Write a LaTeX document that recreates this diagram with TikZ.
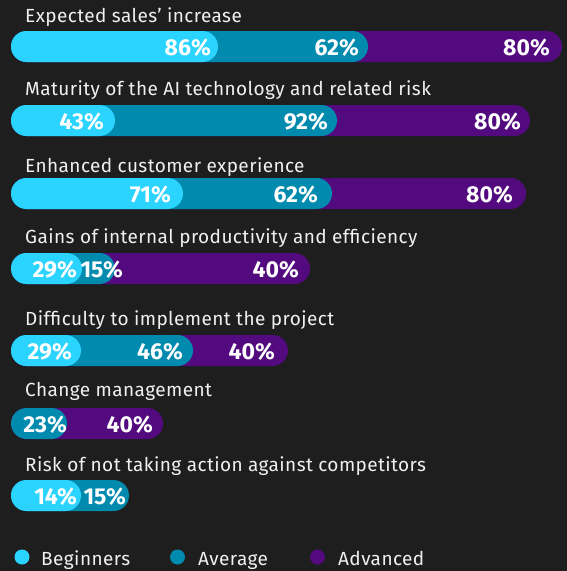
\documentclass[tikz,border=0pt]{standalone}
\usepackage{fontspec}
\setmainfont{Fira Sans}
\newfontfamily\catfont[LetterSpace=2.2]{Fira Sans}
\definecolor{bgdark}{HTML}{1E1E1E}
\definecolor{beginner}{HTML}{2AD4FF}
\definecolor{average}{HTML}{008AAE}
\definecolor{advanced}{HTML}{520A7E}
\definecolor{labelgrey}{HTML}{F0F0F0}

\begin{document}
\begin{tikzpicture}[x=1pt,y=-1pt,
    cat/.style={anchor=base west, text=labelgrey, inner sep=0pt, font=\catfont\fontsize{19}{19}\selectfont},
    pct/.style={anchor=base east, text=white, inner sep=0pt, font=\bfseries\fontsize{23}{23}\selectfont},
    seg/.style={rounded corners=15.5pt},
    dot/.style={circle, inner sep=0pt, minimum size=15pt}]
    % background and page size
    \fill[bgdark] (0,0) rectangle (567,571);
    \useasboundingbox (0,0) rectangle (567,571);

    % the bars: advanced first, then average and beginners on top
    \foreach \ytop/\xa/\xb/\xc in {31/218/368/562, 105/115/337/530, 178/183/332/526,
        253/82/115/310, 335/81/193/288, 408/0/67/163, 480/81/129/0}{
        \ifnum\xc>0 \fill[advanced, seg] (11,\ytop) rectangle (\xc,\ytop+31); \fi
        \ifnum\xb>0 \fill[average, seg] (11,\ytop) rectangle (\xb,\ytop+31); \fi
        \ifnum\xa>0 \fill[beginner, seg] (11,\ytop) rectangle (\xa,\ytop+31); \fi
    }

    % the questions
    \foreach \n/\yb/\txt in {1/22/Expected sales’ increase,
        2/95/Maturity of the AI technology and related risk,
        3/172/Enhanced customer experience,
        4/243/Gains of internal productivity and efficiency,
        5/325/Difficulty to implement the project,
        6/396/Change management,
        7/471/Risk of not taking action against competitors}
        \node[cat] (q\n) at (25,\yb) {\txt};

    % the shares
    \foreach \n/\x/\yb/\t in {1a/211/55/86, 1b/359/55/62, 1c/550/55/80,
        2a/104/129.5/43, 2b/328/129.5/92, 2c/521/129.5/80,
        3a/171/202/71, 3b/318/202/62, 3c/513/202/80,
        4a/77/277/29, 4b/123/277/15, 4c/299/277/40,
        5a/72/359.5/29, 5b/183/359.5/46, 5c/275/359.5/40,
        6b/67/432.5/23, 6c/153/432.5/40,
        7a/77/504/14, 7b/126/504/15}
        \node[pct] (p\n) at (\x,\yb) {\t\%};

    % legend
    \node[dot, fill=beginner] (dotbeg) at (22,557) {};
    \node[dot, fill=average] (dotavg) at (177.5,557) {};
    \node[dot, fill=advanced] (dotadv) at (317.5,557) {};
    \node[cat] (legbeg) at (41,565) {Beginners};
    \node[cat] (legavg) at (198,565) {Average};
    \node[cat] (legadv) at (338,565) {Advanced};
\end{tikzpicture}
\end{document}
